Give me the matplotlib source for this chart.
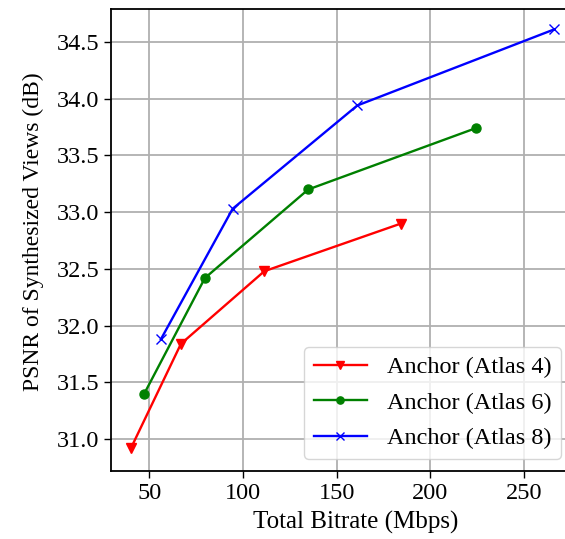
import matplotlib.pyplot as plt

plt.rcParams['font.family'] = ['Liberation Serif', 'DejaVu Serif']

# total bitrate (Mbps) and synthesized-view PSNR (dB) per anchor
rate_atlas4 = [40.2, 66.9, 111.4, 184.3]
psnr_atlas4 = [30.92, 31.84, 32.48, 32.90]
rate_atlas6 = [47.3, 79.7, 134.8, 224.2]
psnr_atlas6 = [31.40, 32.42, 33.20, 33.74]
rate_atlas8 = [56.2, 94.5, 161.0, 266.0]
psnr_atlas8 = [31.88, 33.03, 33.94, 34.61]

W, H = 565, 539
fig = plt.figure(figsize=(W / 100, H / 100), dpi=100)
# axes runs past the right border of the canvas
ax = fig.add_axes([111 / W, (H - 471) / H, 489 / W, 462 / H])

ax.plot(rate_atlas4, psnr_atlas4, color='r', marker='v', lw=1.7, ms=6.5, label='Anchor (Atlas 4)')
ax.plot(rate_atlas6, psnr_atlas6, color='g', marker='o', lw=1.7, ms=6.5, label='Anchor (Atlas 6)')
ax.plot(rate_atlas8, psnr_atlas8, color='b', marker='x', lw=1.7, ms=6.5, label='Anchor (Atlas 8)')

ax.set_xlim(29.6, 290.5)
ax.set_ylim(30.72, 34.79)
ax.set_xticks([50, 100, 150, 200, 250])
ax.set_yticks([31.0, 31.5, 32.0, 32.5, 33.0, 33.5, 34.0, 34.5])
ax.tick_params(labelsize=17.5, length=5, width=1)
ax.set_xlabel('Total Bitrate (Mbps)', fontsize=18, labelpad=5)
ax.set_ylabel('PSNR of Synthesized Views (dB)', fontsize=17)
ax.yaxis.set_label_coords(-0.137, 0.519)
ax.grid(True, color='#b0b0b0', lw=1.3)
for s in ax.spines.values():
    s.set_linewidth(1.3)
ax.spines['right'].set_visible(False)

leg = ax.legend(loc='lower right', fontsize=17.5, handlelength=2.2, markerscale=0.8,
                bbox_to_anchor=(561 / W, (H - 459) / H), bbox_transform=fig.transFigure,
                borderaxespad=0, labelspacing=0.55)

fig.savefig('out.png', dpi=100)
